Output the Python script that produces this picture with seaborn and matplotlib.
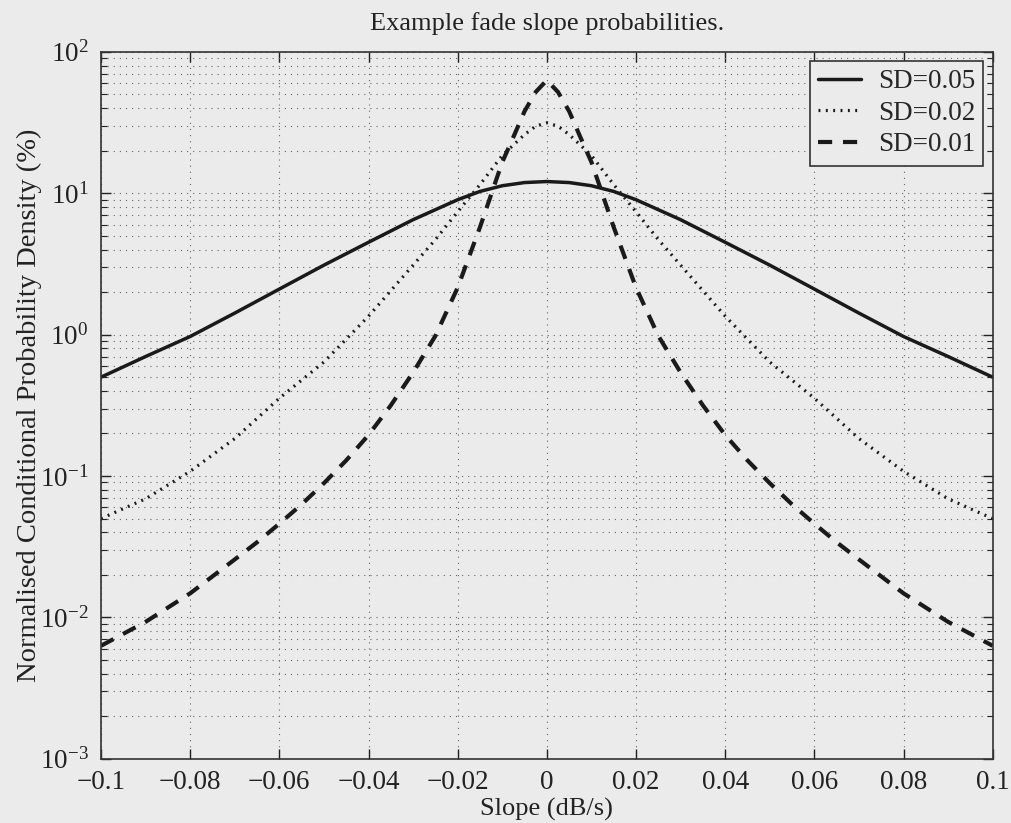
import numpy as np
import pandas as pd
import matplotlib
matplotlib.use("Agg")
import matplotlib.pyplot as plt
import matplotlib.ticker as mticker
import seaborn as sns

# ---- data ----
x_sd05 = [-0.1, -0.09, -0.08, -0.07, -0.06, -0.05, -0.04, -0.03, -0.02, -0.015, -0.01, -0.005, 0.0,
          0.005, 0.01, 0.015, 0.02, 0.03, 0.04, 0.05, 0.06, 0.07, 0.08, 0.09, 0.1]
y_sd05 = [0.50, 0.70, 0.97, 1.42, 2.1, 3.1, 4.5, 6.5, 9.0, 10.3, 11.3, 11.9, 12.1,
          11.9, 11.3, 10.3, 9.0, 6.5, 4.5, 3.1, 2.1, 1.42, 0.97, 0.70, 0.50]

x_sd02 = [-0.1, -0.09, -0.08, -0.07, -0.06, -0.05, -0.04, -0.03, -0.025, -0.02, -0.015, -0.01, -0.005,
          -0.0025, 0.0, 0.0025,
          0.005, 0.01, 0.015, 0.02, 0.025, 0.03, 0.04, 0.05, 0.06, 0.07, 0.08, 0.09, 0.1]
y_sd02 = [0.050, 0.069, 0.108, 0.184, 0.355, 0.64, 1.35, 3.1, 4.7, 7.4, 11.5, 18.5, 26.0,
          29.8, 31.5, 29.8,
          26.0, 18.5, 11.5, 7.4, 4.7, 3.1, 1.35, 0.64, 0.355, 0.184, 0.108, 0.069, 0.050]

x_sd01 = [-0.1, -0.09, -0.08, -0.07, -0.065, -0.06, -0.055, -0.05, -0.045, -0.04, -0.035, -0.03,
          -0.025, -0.02, -0.015, -0.01, -0.0075, -0.005, -0.0025, 0.0,
          0.0025, 0.005, 0.0075, 0.01, 0.015, 0.02, 0.025, 0.03, 0.035, 0.04, 0.045, 0.05,
          0.055, 0.06, 0.065, 0.07, 0.08, 0.09, 0.1]
y_sd01 = [0.0063, 0.0093, 0.0148, 0.0257, 0.034, 0.046, 0.063, 0.089, 0.129, 0.195, 0.316, 0.54,
          0.98, 2.15, 5.75, 16.6, 25.0, 38.0, 52.0, 63.0,
          52.0, 38.0, 25.0, 16.6, 5.75, 2.15, 0.98, 0.54, 0.316, 0.195, 0.129, 0.089,
          0.063, 0.046, 0.034, 0.0257, 0.0148, 0.0093, 0.0063]

series_labels = ["SD=0.05", "SD=0.02", "SD=0.01"]
x_ticks = [-0.1, -0.08, -0.06, -0.04, -0.02, 0.0, 0.02, 0.04, 0.06, 0.08, 0.1]
title = "Example fade slope probabilities."
xlabel = "Slope (dB/s)"
ylabel = "Normalised Conditional Probability Density (%)"

# ---- styling ----
sns.set_theme(style="ticks")
plt.rcParams["font.family"] = ["Liberation Serif", "DejaVu Serif"]
plt.rcParams["mathtext.fontset"] = "custom"
plt.rcParams["mathtext.rm"] = "Liberation Serif"
plt.rcParams["mathtext.it"] = "Liberation Serif:italic"
bg = "#ebebeb"
ink = "#222222"

fig = plt.figure(figsize=(10.11, 8.23), dpi=100, facecolor=bg)
ax = fig.add_axes([0.0999, 0.078, 0.882, 0.859])
ax.set_facecolor(bg)

styles = ["-", (0, (0.6, 1.7)), (0, (3.4, 2.6))]
widths = [2.5, 2.3, 3.0]
for xs, ys, lab, ls, lw in zip([x_sd05, x_sd02, x_sd01], [y_sd05, y_sd02, y_sd01],
                               series_labels, styles, widths):
    df = pd.DataFrame({"x": xs, "y": ys})
    sns.lineplot(data=df, x="x", y="y", ax=ax, color="#1a1a1a", linestyle=ls,
                 linewidth=lw, label=lab, sort=True)

ax.set_yscale("log")
ax.set_xlim(-0.1, 0.1)
ax.set_ylim(1e-3, 1e2)
ax.set_xticks(x_ticks)
ax.xaxis.set_major_formatter(mticker.FuncFormatter(
    lambda v, p: (f"{v:g}".replace("-", "\u2212")) if abs(v) > 1e-12 else "0"))
ax.yaxis.set_major_locator(mticker.LogLocator(base=10, numticks=10))
ax.yaxis.set_minor_locator(mticker.LogLocator(base=10, subs=np.arange(2, 10), numticks=20))
ax.yaxis.set_minor_formatter(mticker.NullFormatter())

ax.grid(True, which="major", axis="both", color="#666666", linestyle=(0, (1, 4.5)), linewidth=0.8)
ax.grid(True, which="minor", axis="y", color="#666666", linestyle=(0, (1, 4.5)), linewidth=0.8)

ax.tick_params(axis="both", which="both", direction="in", top=True, right=True,
               labelsize=19.5, colors=ink)
ax.tick_params(axis="both", which="major", length=7, width=1.0)
ax.tick_params(axis="y", which="minor", length=4, width=0.8)
ax.tick_params(axis="x", which="major", pad=8)
ax.tick_params(axis="y", which="major", pad=9)
for s in ax.spines.values():
    s.set_color("#333333")
    s.set_linewidth(1.2)

ax.set_title(title, fontsize=19, color=ink, pad=16)
ax.set_xlabel(xlabel, fontsize=19, color=ink, labelpad=2)
ax.set_ylabel(ylabel, fontsize=20.5, color=ink, labelpad=-2)

leg = ax.legend(loc="upper right", fontsize=19.5, frameon=True, fancybox=False,
                handlelength=1.6, borderaxespad=0.35, labelspacing=0.24, handletextpad=0.6,
                borderpad=0.3)
leg.get_frame().set_edgecolor("#333333")
leg.get_frame().set_facecolor(bg)
leg.get_frame().set_alpha(1.0)
leg.get_frame().set_linewidth(1.2)

fig.savefig("out.png", dpi=100, facecolor=bg)
